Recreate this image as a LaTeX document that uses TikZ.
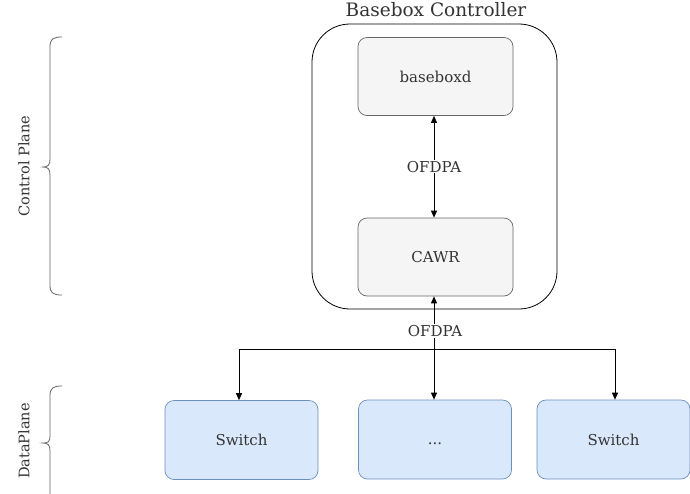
\documentclass[tikz,border=0pt]{standalone}
\usepackage{fontspec}
\setmainfont{DejaVu Serif}
\usetikzlibrary{arrows.meta}
\definecolor{grayfill}{HTML}{F5F5F5}
\definecolor{grayline}{HTML}{666666}
\definecolor{bluefill}{HTML}{DAE8FC}
\definecolor{blueline}{HTML}{6C8EBF}
\definecolor{txt}{HTML}{333333}
\begin{document}
\begin{tikzpicture}[x=1pt,y=-1pt,
  graybox/.style={draw=grayline,fill=grayfill,rounded corners=9pt,minimum width=155pt,minimum height=78pt,inner sep=0pt,font=\fontsize{15}{17}\selectfont,text=txt,line width=0.7pt},
  bluebox/.style={draw=blueline,fill=bluefill,rounded corners=9pt,minimum width=153pt,minimum height=79pt,inner sep=0pt,font=\fontsize{15}{17}\selectfont,text=txt,line width=0.7pt},
  conn/.style={line width=0.9pt,-{Triangle[length=7pt,width=6pt]}},
  lbl/.style={fill=white,inner sep=1pt,font=\fontsize{15}{17}\selectfont,text=txt},
  side/.style={font=\fontsize{14.5}{17}\selectfont,text=txt,rotate=90},
  brace/.style={draw=grayline,line width=0.8pt}]
\useasboundingbox (0,0) rectangle (690,493);
% controller
\node[draw=black,line width=0.8pt,rounded corners=38pt,minimum width=245pt,minimum height=285pt,inner sep=0pt] (ctrl) at (434.5,166.5) {};
\node[font=\fontsize{18.5}{20}\selectfont,text=txt,anchor=base] (title) at (436,16) {Basebox Controller};
\node[graybox] (bd) at (435.5,76.5) {baseboxd};
\node[graybox] (cawr) at (435.5,257) {CAWR};
\draw[conn,{Triangle[length=7pt,width=6pt]}-{Triangle[length=7pt,width=6pt]}] (bd.south -| 434,0) -- (cawr.north -| 434,0) node[midway,lbl] (of1) {OFDPA};
% switches
\node[bluebox] (s1) at (241.5,440) {Switch};
\node[bluebox] (s2) at (435,439.5) {\vphantom{Sw}...};
\node[bluebox] (s3) at (613.5,439.5) {Switch};
\coordinate (hl) at (239,349);
\coordinate (hr) at (615,349);
\draw[line width=0.9pt,{Triangle[length=7pt,width=6pt]}-{Triangle[length=7pt,width=6pt]}] (cawr.south -| 434,0) -- (s2.north -| 434,0);
\node[lbl,fill=white] (of2) at (435,331) {OFDPA};
\draw[conn] (434,349) -- (hl) -- (s1.north -| hl);
\draw[conn] (434,349) -- (hr) -- (s3.north -| hr);
% braces
\draw[brace] (62,37) .. controls (53,37) and (50,39) .. (50,47) -- (50,159) .. controls (50,165) and (48,167) .. (43,167)
  .. controls (48,167) and (50,169) .. (50,175) -- (50,285) .. controls (50,293) and (53,295) .. (62,295);
\node[side] (cp) at (24,166) {Control Plane};
\draw[brace] (62,386) .. controls (53,386) and (50,388) .. (50,396) -- (50,436) .. controls (50,442) and (48,443) .. (43,443)
  .. controls (48,443) and (50,445) .. (50,451) -- (50,500);
\node[side] (dp) at (24,441) {DataPlane};
\end{tikzpicture}
\end{document}
